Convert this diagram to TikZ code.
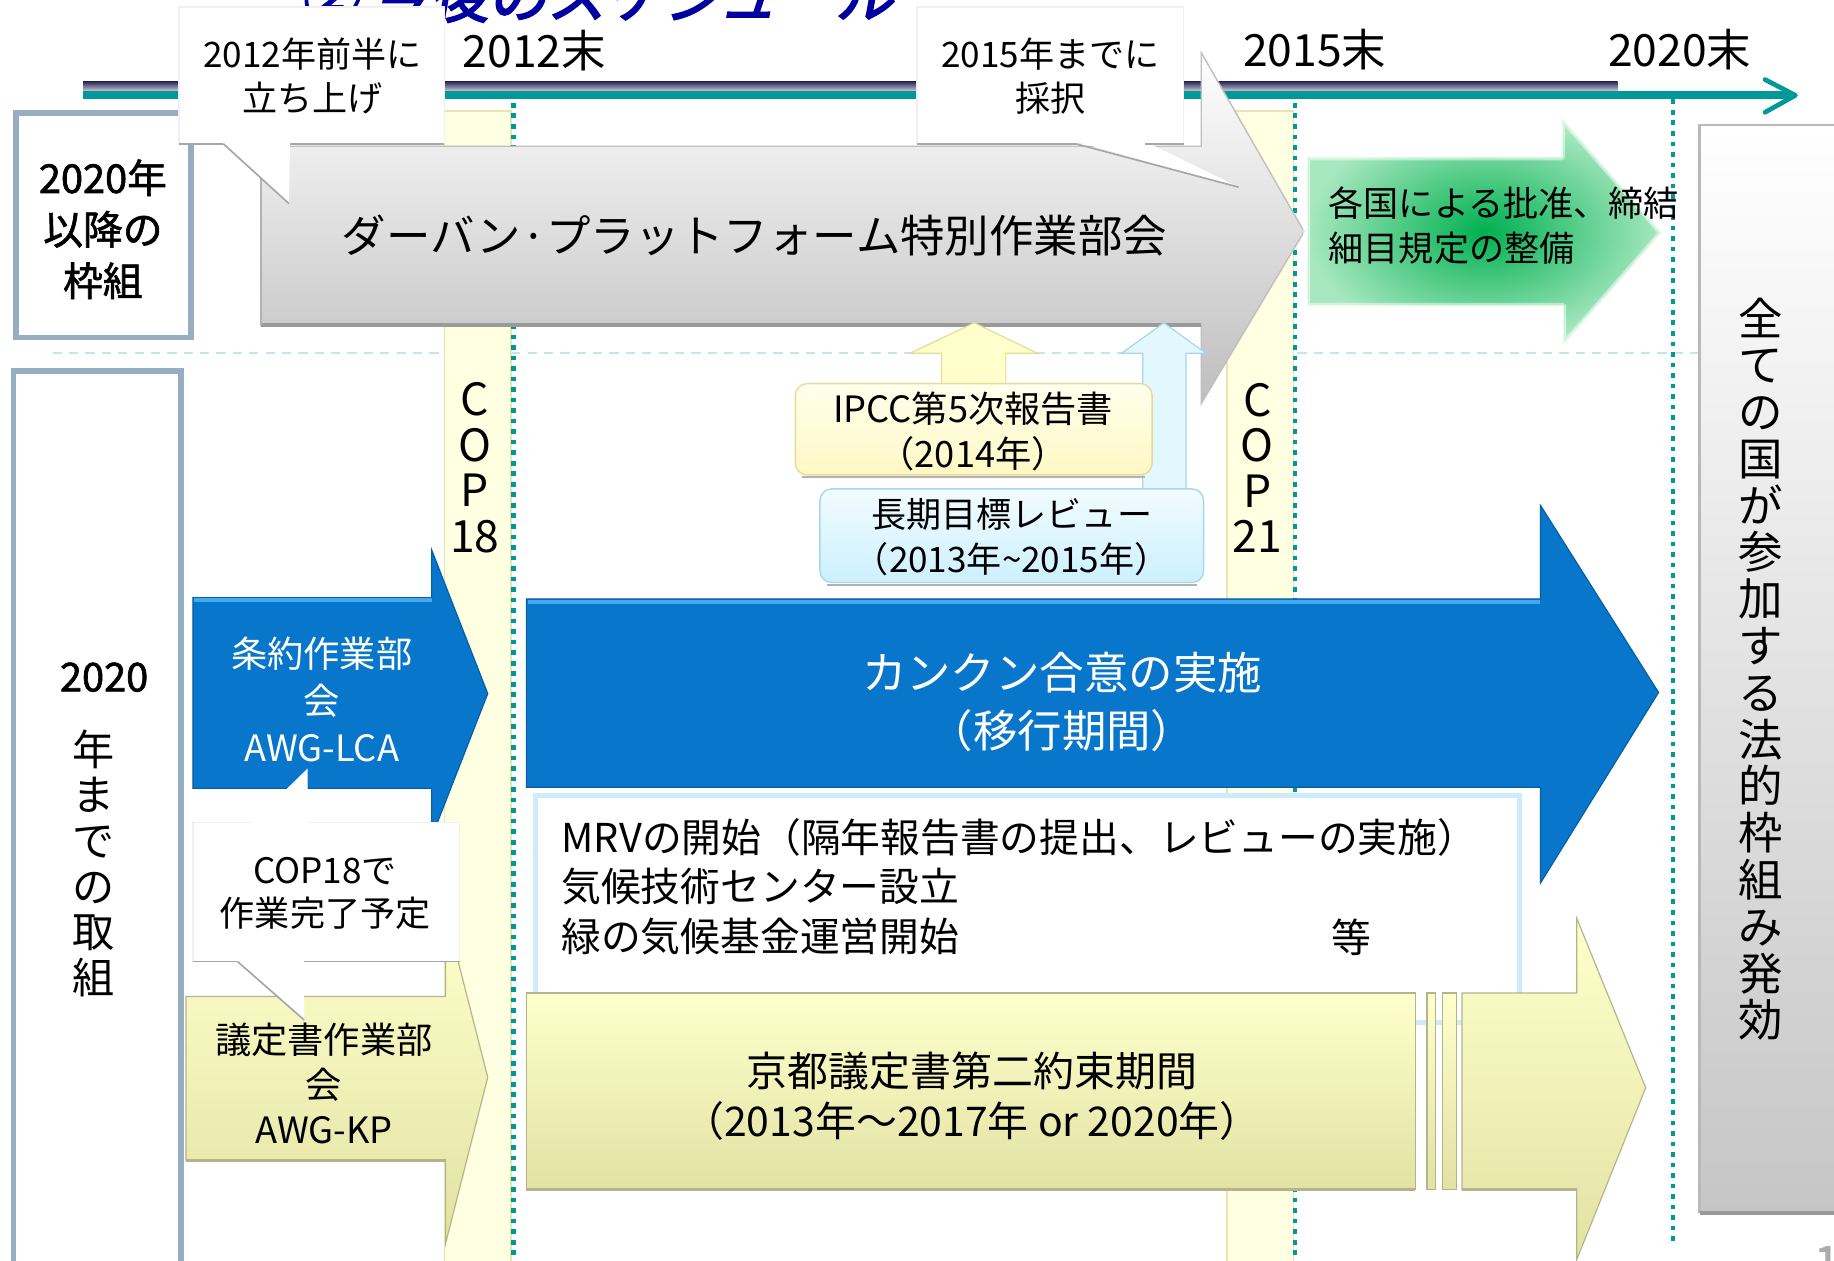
\documentclass[tikz,border=0pt]{standalone}
\usepackage{fontspec}
\setmainfont{Noto Sans CJK JP}
\newfontfamily\boldjp[FakeBold=1.6]{Noto Sans CJK JP}
\newfontfamily\titlejp[FakeBold=3,FakeSlant=0.18]{Noto Sans CJK JP}
\usetikzlibrary{calc}
\newcommand\fs[2]{\fontsize{\dimexpr#1pt/2\relax}{\dimexpr#2pt/2\relax}\selectfont}
\definecolor{teal1}{HTML}{009999}
\definecolor{navy1}{HTML}{2E2E5E}
\definecolor{stripgray}{HTML}{CFCFD6}
\definecolor{boxbd}{HTML}{97AEC2}
\definecolor{copfill}{HTML}{FFFFE2}
\definecolor{copbd}{HTML}{E6E6B4}
\definecolor{blueA}{HTML}{0877CB}
\definecolor{blueD}{HTML}{055EA6}
\definecolor{blueL}{HTML}{45A8EE}
\definecolor{yelT}{HTML}{FFFFCC}
\definecolor{yelB}{HTML}{E2E2A4}
\definecolor{yelD}{HTML}{B4B48A}
\definecolor{grayB}{HTML}{BEBEBE}
\definecolor{grayD}{HTML}{9A9A9A}
\definecolor{panelB}{HTML}{C6C6C6}
\definecolor{greenC}{HTML}{00B050}
\definecolor{greenE}{HTML}{A8E8C0}
\definecolor{titleblue}{HTML}{0000A0}
\definecolor{dashblue}{HTML}{C4E4F6}
\definecolor{mrvbd}{HTML}{CDEBFC}
\definecolor{ipccT}{HTML}{FFFFEC}
\definecolor{ipccB}{HTML}{FFF8C4}
\definecolor{ipccbd}{HTML}{E4DC98}
\definecolor{revT}{HTML}{F2FCFF}
\definecolor{revB}{HTML}{CCF0FF}
\definecolor{revbd}{HTML}{A6D6F0}
\tikzset{
  txt/.style={inner sep=0pt, outer sep=0pt, align=center},
  ltxt/.style={inner sep=0pt, outer sep=0pt, align=left, anchor=west},
  strip/.style={fill=copfill, draw=copbd, line width=0.6pt},
  tldot/.style={draw=teal1, line width=1.8pt, dash pattern=on 2pt off 2.5pt},
  dashsep/.style={draw=dashblue, line width=1pt, dash pattern=on 4pt off 3pt},
  sidebox/.style={draw=boxbd, line width=2.5pt, fill=white},
  callbox/.style={fill=white, draw=gray!12, line width=0.5pt},
  calltail/.style={fill=white, draw=none},
  shadowline/.style={draw=gray!70, line width=0.7pt},
  bluearrow/.style={fill=blueA, draw=blueD, line width=0.5pt},
  yellowarrow/.style={top color=yelT, bottom color=yelB, draw=yelD, line width=0.5pt},
  grayarrow/.style={top color=white, bottom color=grayB, draw=gray!50, line width=0.6pt},
  upyellow/.style={fill=yelT, draw=ipccbd, line width=0.5pt},
  upblue/.style={fill=revT!60!revB, draw=revbd, line width=0.5pt},
  ipccbox/.style={top color=ipccT, bottom color=ipccB, draw=ipccbd, line width=0.6pt, rounded corners=5pt},
  revbox/.style={top color=revT, bottom color=revB, draw=revbd, line width=0.6pt, rounded corners=5pt},
}
\begin{document}
\begin{tikzpicture}[x=0.5pt,y=-0.5pt]
\useasboundingbox (0,0) rectangle (1568,1078);
\clip (0,0) rectangle (1568,1078);
\fill[white] (0,0) rectangle (1568,1078);

% separator and COP strips
\draw[dashsep] (45,302) -- (1452,302);
\path[strip] (380,95) rectangle (437,1090);
\path[strip] (1049,95) rectangle (1106,1090);
\draw[tldot] (439,70) -- (439,1078);
\draw[tldot] (1107,70) -- (1107,1078);
\draw[tldot] (1430,85) -- (1430,1065);

% timeline
\shade[top color=navy1, bottom color=stripgray] (71,70) rectangle (1383,78);
\fill[teal1] (71,78) rectangle (1530,85);
\draw[teal1, line width=2pt, line cap=round, line join=round] (1509,68) -- (1535,81.5) -- (1509,96);

% title (cut at top)
\node[anchor=base west, inner sep=0pt, text=titleblue, font={\titlejp\fs{50}{60}}] (title) at (256,15) {② 今後のスケジュール};

% year labels
\node[txt, font={\fs{38}{44}}] (y2012) at (457,43) {2012末};
\node[txt, font={\fs{38}{44}}] (y2015) at (1124,42) {2015末};
\node[txt, font={\fs{38}{44}}] (y2020) at (1436,42) {2020末};

% left boxes
\draw[sidebox] (13.5,96.5) rectangle (163.5,288.5);
\node[txt, font={\boldjp\fs{34}{44}}] (lbox1) at (88,196) {2020年\\以降の\\枠組};
\draw[sidebox] (11.5,317.5) rectangle (154.5,1095);
\node[txt, font={\boldjp\fs{34}{40}}] (l2020) at (89,579) {2020};
\node[txt, font={\fs{36}{39}}] (lvert) at (80,738) {年\\ま\\で\\の\\取\\組};

% right panel
\shade[top color=white, bottom color=panelB] (1453,107) rectangle (1580,1037);
\draw[gray!55, line width=1pt] (1453,1037) -- (1453,107) -- (1580,107);
\draw[gray!80, line width=1.5pt] (1453,1037) -- (1580,1037);
\node[txt, font={\fs{38}{40}}] (rvert) at (1505,572) {全\\て\\の\\国\\が\\参\\加\\す\\る\\法\\的\\枠\\組\\み\\発\\効};

% COP labels
\node[txt, font={\fs{38}{39}}] (cop18) at (406,400) {C\\O\\P\\18};
\node[txt, font={\fs{38}{39}}] (cop21) at (1075,400) {C\\O\\P\\21};

% Durban platform arrow
\path[grayarrow] (223,125) -- (1027,125) -- (1027,45) -- (1115,198) -- (1027,345) -- (1027,278) -- (223,278) -- cycle;
\draw[grayD, line width=1.5pt] (223,278) -- (1027,278);
\draw[gray!60, line width=1pt] (223,278) -- (223,125);
\node[txt, font={\fs{38}{44}}] (durban) at (645,201) {ダーバン·プラットフォーム特別作業部会};

% callout 1
\path[callbox] (153,6) rectangle (380,123);
\path[calltail] (191,121) -- (248,121) -- (247,174) -- cycle;
\draw[shadowline] (153,123) -- (191,123) (248,123) -- (380,123);
\draw[shadowline] (191,123) -- (247,174);
\node[txt, font={\fs{30}{37}}] (call1) at (267,65) {2012年前半に\\立ち上げ};

% callout 2
\path[callbox] (784,6) rectangle (1012,123);
\path[calltail] (920,121) -- (979,121) -- (1059,160) -- cycle;
\draw[shadowline] (784,123) -- (920,123) (979,123) -- (1012,123);
\draw[shadowline] (920,123) -- (1059,160);
\node[txt, font={\fs{30}{37}}] (call2) at (898,65) {2015年までに\\採択};

% green arrow
\shade[inner color=greenC, outer color=greenE] (1117,134) -- (1335,134) -- (1335,100) -- (1421,199) -- (1336,296) -- (1336,262) -- (1117,262) -- cycle;
\draw[white, line width=3pt, opacity=0.5, line join=round] (1117,134) -- (1335,134) -- (1335,100) -- (1421,199) -- (1336,296) -- (1336,262) -- (1117,262) -- cycle;
\draw[white, line width=1.2pt, opacity=0.6, line join=round] (1117,134) -- (1335,134) -- (1335,100) -- (1421,199) -- (1336,296) -- (1336,262) -- (1117,262) -- cycle;
\node[ltxt, font={\fs{30}{38}}] (green) at (1136,193) {各国による批准、締結\\細目規定の整備};

% up arrows and boxes
\path[upblue] (977,420) -- (977,302) -- (959,302) -- (995,276) -- (1031,302) -- (1014,302) -- (1014,420) -- cycle;
\path[upyellow] (805,330) -- (805,302) -- (778,302) -- (833,276) -- (887,302) -- (860,302) -- (860,330) -- cycle;
\draw[gray!60, line width=1pt] (686,408) -- (979,408);
\path[ipccbox] (680,328) rectangle (985,406);
\node[txt, font={\fs{31}{38}}] (ipcc) at (832,369) {IPCC第5次報告書\\（2014年）};
\draw[gray!60, line width=1pt] (707,500) -- (1023,500);
\path[revbox] (701,418) rectangle (1029,498);
\node[txt, font={\fs{30}{38}}] (review) at (865,459) {長期目標レビュー\\（2013年\textasciitilde 2015年）};

% AWG-LCA arrow
\path[bluearrow] (165,511) -- (369,511) -- (369,470) -- (417,593) -- (369,716) -- (369,674) -- (165,674) -- cycle;
\draw[blueL, line width=1.5pt] (166,513) -- (369,513);
\node[txt, text=white, font={\fs{31}{40}}] (lca) at (275,598) {条約作業部\\会\\AWG-LCA};

% AWG-KP arrow
\path[yellowarrow] (159,852) -- (381,852) -- (381,780) -- (417,921) -- (381,1063) -- (381,992) -- (159,992) -- cycle;
\draw[yelD, line width=1.2pt] (159,992) -- (381,992);
\node[txt, font={\fs{31}{38.5}}] (kp) at (277,926) {議定書作業部\\会\\AWG-KP};

% callout 3
\path[callbox] (165,703) rectangle (393,822);
\path[calltail] (214,705) -- (263,705) -- (263,657) -- cycle;
\path[calltail] (203,820) -- (260,820) -- (260,872) -- cycle;
\draw[shadowline] (165,822) -- (203,822) (260,822) -- (393,822);
\draw[shadowline] (203,822) -- (260,872);
\node[txt, font={\fs{30}{37}}] (call3) at (278,764) {COP18で\\作業完了予定};

% Cancun arrow
\path[bluearrow] (450,512) -- (1317,512) -- (1317,432) -- (1418,592) -- (1317,755) -- (1317,673) -- (450,673) -- cycle;
\draw[blueL, line width=1.5pt] (451,514.5) -- (1317,514.5);
\node[txt, text=white, font={\fs{38}{50}}] (cancun) at (908,600) {カンクン合意の実施\\（移行期間）};

% MRV box
\draw[fill=white, draw=mrvbd, line width=2pt] (458,680) rectangle (1299,874);
\node[ltxt, font={\fs{34}{42.5}}] (mrv) at (480,758) {MRVの開始（隔年報告書の提出、レビューの実施）\\気候技術センター設立\\緑の気候基金運営開始};
\node[txt, font={\fs{34}{40}}] (etc) at (1155,801) {等};

% Kyoto arrow
\path[yellowarrow] (450,849) rectangle (1210,1017);
\path[yellowarrow] (1220,849) rectangle (1227,1017);
\path[yellowarrow] (1233,849) rectangle (1245,1017);
\path[yellowarrow] (1250,849) -- (1348,849) -- (1348,785) -- (1407,930) -- (1348,1077) -- (1348,1017) -- (1250,1017) -- cycle;
\draw[yelD, line width=1.2pt] (450,1017) -- (1210,1017) (1250,1017) -- (1348,1017);
\node[txt, font={\fs{35}{43}}] (kyoto) at (831,937) {京都議定書第二約束期間\\（2013年～2017年 or 2020年）};

% page number fragment
\node[anchor=base, inner sep=0pt, text=gray!65, font={\boldjp\fs{40}{40}}] (pgnum) at (1562,1094) {1};
\end{tikzpicture}
\end{document}
